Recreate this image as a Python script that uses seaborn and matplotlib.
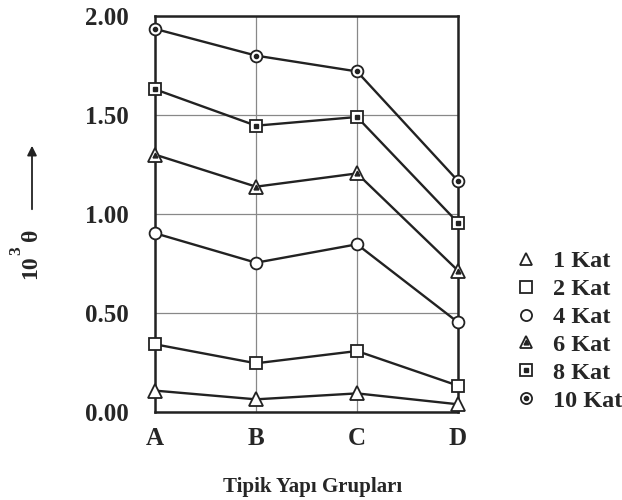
import matplotlib
matplotlib.use('Agg')
import matplotlib.pyplot as plt
import seaborn as sns
import pandas as pd
from matplotlib.lines import Line2D
from matplotlib.legend_handler import HandlerTuple

# data
groups = ['A', 'B', 'C', 'D']
kat_1 = [0.108, 0.064, 0.094, 0.039]
kat_2 = [0.342, 0.246, 0.308, 0.133]
kat_4 = [0.903, 0.754, 0.847, 0.453]
kat_6 = [1.300, 1.138, 1.205, 0.714]
kat_8 = [1.630, 1.446, 1.490, 0.956]
kat_10 = [1.935, 1.800, 1.720, 1.167]
series_names = ['1 Kat', '2 Kat', '4 Kat', '6 Kat', '8 Kat', '10 Kat']
y_ticks = [0.0, 0.5, 1.0, 1.5, 2.0]

sns.set_style('white')
plt.rcParams['font.family'] = ['Liberation Serif', 'DejaVu Serif']
plt.rcParams['font.weight'] = 'bold'

df = pd.DataFrame({'grup': groups * 6,
                   'seri': [n for n in series_names for _ in groups],
                   'deger': kat_1 + kat_2 + kat_4 + kat_6 + kat_8 + kat_10})

outer = {'1 Kat': '^', '2 Kat': 's', '4 Kat': 'o', '6 Kat': '^', '8 Kat': 's', '10 Kat': 'o'}
dotted = {'6 Kat': '^', '8 Kat': 's', '10 Kat': 'o'}
msize = {'^': 9.5, 's': 8.5, 'o': 8.5}
inner_size = {'^': 3.5, 's': 3, 'o': 3}
ink = '#222222'

fig = plt.figure(figsize=(6.22, 5.0), dpi=100)
ax = fig.add_axes([155 / 622, 88 / 500, 303 / 622, 396 / 500])

for name in series_names:
    sub = df[df['seri'] == name]
    mk = outer[name]
    sns.lineplot(data=sub, x='grup', y='deger', ax=ax, color=ink, lw=1.7,
                 marker=mk, markersize=msize[mk], markerfacecolor='white',
                 markeredgecolor=ink, markeredgewidth=1.3, clip_on=False,
                 zorder=3)
    if name in dotted:
        ax.plot(sub['grup'], sub['deger'], ls='none', marker=mk,
                ms=inner_size[mk], color=ink, clip_on=False, zorder=4)

ax.set_xlim(0, 3)
ax.set_ylim(0, 2)
ax.set_yticks(y_ticks)
ax.set_yticklabels([f'{v:.2f}' for v in y_ticks], fontsize=18, fontweight='bold')
ax.set_xticks(range(4))
ax.set_xticklabels(groups, fontsize=18, fontweight='bold')
ax.tick_params(axis='y', length=0, pad=19)
ax.tick_params(axis='x', length=0, pad=11)
ax.grid(True, color='#888888', lw=0.9)
ax.set_axisbelow(True)
for sp in ax.spines.values():
    sp.set_color(ink)
    sp.set_linewidth(1.8)
ax.set_xlabel('')
ax.set_ylabel('')
fig.text(313 / 622, 1 - 487 / 500, 'Tipik Yapı Grupları', ha='center', va='center',
         fontsize=15, fontweight='bold')

# rotated y label "10^3 θ" with upward arrow
fig.text(31 / 622, 1 - 267 / 500, '10', rotation=90, ha='center', va='center',
         fontsize=17, fontweight='bold')
fig.text(16 / 622, 1 - 251 / 500, '3', rotation=90, ha='center', va='center',
         fontsize=12.5, fontweight='bold')
fig.text(31 / 622, 1 - 235 / 500, 'θ', rotation=90, ha='center', va='center',
         fontsize=17, fontweight='bold')
ax.annotate('', xy=(32 / 622, 1 - 143 / 500), xytext=(32 / 622, 1 - 212 / 500),
            xycoords='figure fraction', textcoords='figure fraction',
            arrowprops=dict(arrowstyle='-|>', color=ink, lw=1.3,
                            mutation_scale=14))

handles = []
for name in series_names:
    mk = outer[name]
    h_out = Line2D([], [], ls='none', marker=mk, ms=msize[mk] - 0.5, mfc='white',
                   mec=ink, mew=1.3)
    if name in dotted:
        h_in = Line2D([], [], ls='none', marker=mk, ms=inner_size[mk], color=ink)
        handles.append((h_out, h_in))
    else:
        handles.append(h_out)

fig.legend(handles, series_names, loc='center left',
           bbox_to_anchor=(492 / 622, 1 - 331 / 500), frameon=False,
           handler_map={tuple: HandlerTuple(ndivide=1)},
           prop={'family': 'Liberation Serif', 'weight': 'bold', 'size': 17.5},
           handlelength=1.0, handletextpad=0.62, labelspacing=0.24)

fig.savefig('out.png', dpi=100)
